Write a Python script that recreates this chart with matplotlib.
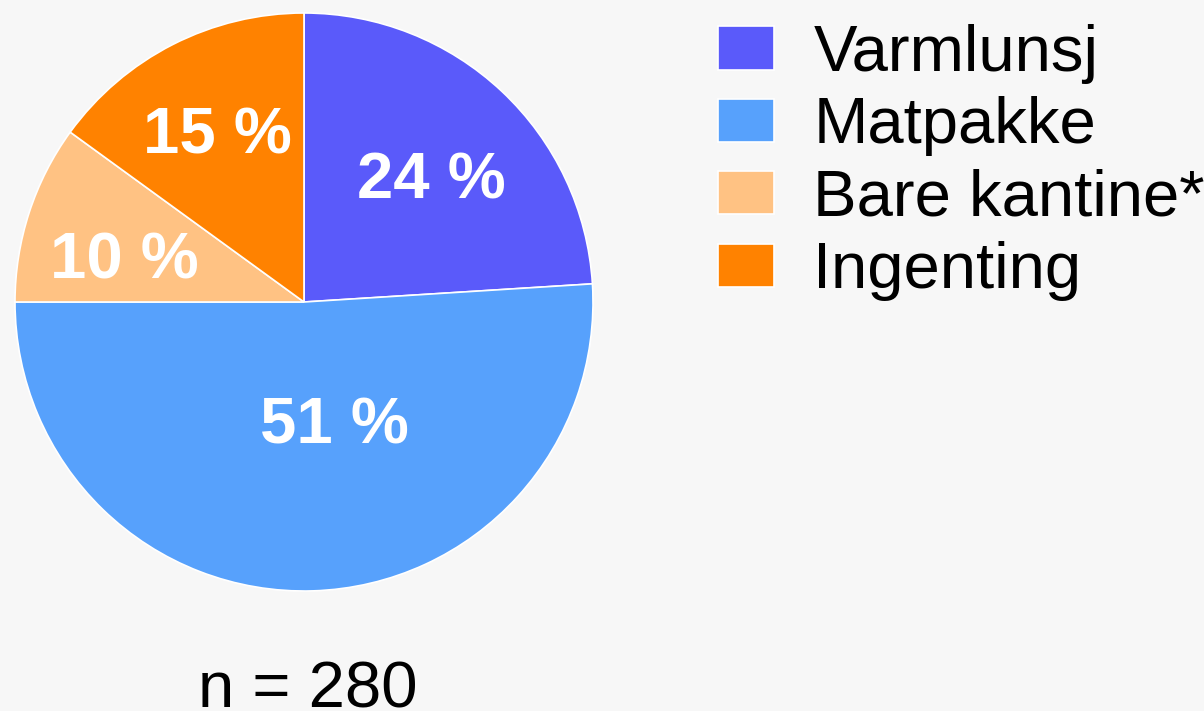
import matplotlib.pyplot as plt

labels = ["Varmlunsj", "Matpakke", "Bare kantine*", "Ingenting"]
shares = [24, 51, 10, 15]
colors = ["#5A5AFA", "#57A1FC", "#FFC283", "#FF8200"]
n_total = 280

# where the percentage labels sit, in pie radius units
label_pos = [(0.44, 0.44), (0.107, -0.408), (-0.62, 0.163), (-0.30, 0.595)]

plt.rcParams["font.family"] = ["Liberation Sans", "DejaVu Sans"]
bg = "#F7F7F7"

fig = plt.figure(figsize=(12.04, 7.11), dpi=100, facecolor=bg)
W, H = 1204, 711
R = 289
cx, cy = 304, 302
ax = fig.add_axes([(cx - R) / W, (H - cy - R) / H, 2 * R / W, 2 * R / H])
ax.set_facecolor(bg)

wedges, texts, autotexts = ax.pie(
    shares, colors=colors, startangle=90, counterclock=False,
    autopct=lambda p: f"{p:.0f} %", pctdistance=0.63,
    wedgeprops=dict(edgecolor="white", linewidth=1.2),
    textprops=dict(color="white", fontsize=47, fontweight="bold",
                   va="center_baseline"),
)
for t, pos in zip(autotexts, label_pos):
    t.set_position(pos)
ax.set_xlim(-1, 1)
ax.set_ylim(-1, 1)
ax.set_aspect("equal")

leg = fig.legend(
    wedges, labels, loc="upper left", bbox_to_anchor=(718 / W, 1 - 24 / H),
    frameon=False, fontsize=47, handlelength=0.86, handleheight=0.64,
    handletextpad=0.6, labelspacing=0.19, borderaxespad=0, borderpad=0,
)

fig.text(308 / W, (H - 707) / H, f"n = {n_total}", ha="center", va="baseline", fontsize=47)

fig.savefig("out.png", dpi=100, facecolor=bg)
